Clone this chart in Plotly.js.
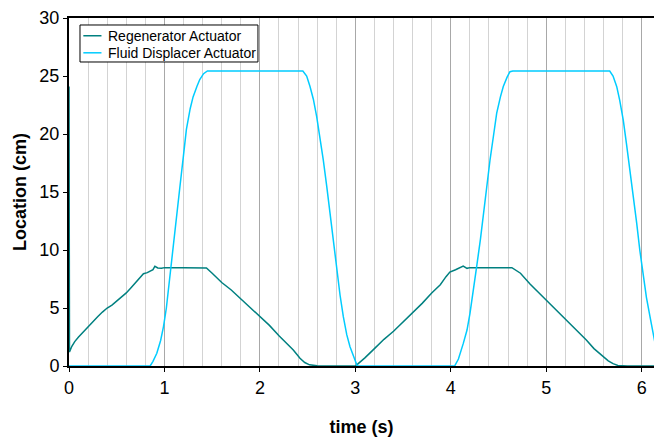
<!DOCTYPE html>
<html>
<head>
<meta charset="utf-8">
<script src="https://cdn.plot.ly/plotly-3.0.1.min.js"></script>
<style>html,body{margin:0;padding:0;background:#fff;}#chart{width:654px;height:437px;}</style>
</head>
<body>
<div id="chart"></div>
<script>
// Regenerator Actuator
const regenTime = [0, 0.005, 0.03, 0.06, 0.1, 0.15, 0.2, 0.25, 0.3, 0.35, 0.4, 0.45, 0.5, 0.55, 0.6, 0.65, 0.7, 0.75, 0.78, 0.82, 0.85, 0.88, 0.9, 0.93, 0.97, 1.0, 1.2, 1.44, 1.5, 1.6, 1.7, 1.8, 1.9, 2.0, 2.1, 2.2, 2.3, 2.35, 2.42, 2.47, 2.52, 2.6, 2.7, 3.0,
  3.03, 3.1, 3.2, 3.3, 3.4, 3.5, 3.6, 3.7, 3.8, 3.89, 3.95, 3.99, 4.05, 4.1, 4.13, 4.17, 4.2, 4.64, 4.73, 4.83, 4.9, 5.0, 5.1, 5.2, 5.3, 5.42, 5.5, 5.6, 5.65, 5.7, 5.75, 5.85, 6.2];
const regenLoc = [24.1, 1.2, 1.7, 2.1, 2.5, 2.95, 3.4, 3.85, 4.25, 4.65, 5.0, 5.25, 5.6, 5.95, 6.3, 6.75, 7.2, 7.65, 7.95, 8.05, 8.2, 8.3, 8.6, 8.45, 8.42, 8.48, 8.48, 8.45, 8.0, 7.2, 6.55, 5.8, 5.05, 4.25, 3.5, 2.6, 1.8, 1.38, 0.66, 0.3, 0.1, 0.02, 0, 0,
  0.2, 0.7, 1.5, 2.3, 3.0, 3.8, 4.6, 5.4, 6.3, 7.0, 7.7, 8.1, 8.3, 8.5, 8.62, 8.42, 8.48, 8.48, 8.0, 7.07, 6.5, 5.7, 4.9, 4.1, 3.3, 2.24, 1.5, 0.8, 0.45, 0.2, 0.05, 0, 0];

// Fluid Displacer Actuator
const fluidTime = [0, 0.85, 0.88, 0.92, 0.96, 0.99, 1.02, 1.06, 1.09, 1.13, 1.16, 1.2, 1.23, 1.27, 1.30, 1.34, 1.37, 1.41, 1.45, 2.45, 2.49, 2.525, 2.56, 2.595, 2.63, 2.664, 2.70, 2.734, 2.77, 2.805, 2.84, 2.874, 2.91, 2.944, 2.98, 3.0, 3.02,
  4.04, 4.08, 4.131, 4.17, 4.201, 4.24, 4.271, 4.31, 4.341, 4.38, 4.411, 4.45, 4.481, 4.52, 4.55, 4.59, 4.62, 4.65, 5.665, 5.70, 5.738, 5.77, 5.807, 5.84, 5.877, 5.91, 5.948, 5.98, 6.017, 6.05, 6.087, 6.129, 6.16, 6.2, 6.23];
const fluidLoc = [0, 0, 0.4, 1.1, 2.2, 3.4, 5.0, 7.8, 10.0, 13.0, 15.3, 18.2, 20.4, 22.2, 23.2, 24.1, 24.7, 25.2, 25.43, 25.43, 25.0, 24.1, 23.0, 21.5, 19.7, 17.76, 15.5, 13.16, 10.7, 8.28, 6.1, 4.25, 2.7, 1.66, 0.8, 0.3, 0,
  0, 0.6, 1.95, 3.1, 4.54, 6.6, 8.56, 10.9, 13.16, 15.6, 17.76, 20.0, 21.8, 23.2, 24.1, 24.9, 25.37, 25.43, 25.43, 25.0, 24.1, 22.9, 21.2, 19.2, 16.9, 14.7, 12.3, 10.0, 7.7, 5.9, 4.25, 2.24, 1.1, 0.3, 0];

const seriesNames = ['Regenerator Actuator', 'Fluid Displacer Actuator'];
const seriesColors = ['#008080', '#00CCFF'];
const xTickVals = [0, 1, 2, 3, 4, 5, 6];
const yTickVals = [0, 5, 10, 15, 20, 25, 30];

const traces = [
  {x: regenTime, y: regenLoc, name: seriesNames[0], type: 'scatter', mode: 'lines', line: {color: seriesColors[0], width: 1.5}, showlegend: false},
  {x: fluidTime, y: fluidLoc, name: seriesNames[1], type: 'scatter', mode: 'lines', line: {color: seriesColors[1], width: 1.5}, showlegend: false}
];

const font = 'Liberation Sans, Arial, sans-serif';

// legend drawn as a box with sample lines and text labels (paper coordinates)
const legBox = {x0: 0.0188, x1: 0.323, y0: 0.8736, y1: 0.9799};
const legRowsY = [0.949, 0.900];
const shapes = [
  {type: 'rect', xref: 'paper', yref: 'paper', x0: legBox.x0, x1: legBox.x1, y0: legBox.y0, y1: legBox.y1,
   line: {color: '#000', width: 1}, fillcolor: '#fff', layer: 'above'}
];
const annotations = [];
seriesNames.forEach((n, i) => {
  shapes.push({type: 'line', xref: 'paper', yref: 'paper', x0: 0.0245, x1: 0.0555, y0: legRowsY[i], y1: legRowsY[i],
               line: {color: seriesColors[i], width: 1.5}, layer: 'above'});
  annotations.push({xref: 'paper', yref: 'paper', x: 0.064, y: legRowsY[i], xanchor: 'left', yanchor: 'middle',
                    text: n, showarrow: false, font: {family: font, size: 14, color: '#000'}});
});

const layout = {
  width: 654, height: 437,
  margin: {l: 69, r: 0, t: 18, b: 71, pad: 0},
  paper_bgcolor: '#fff', plot_bgcolor: '#fff',
  font: {family: font, color: '#000'},
  showlegend: false,
  shapes: shapes,
  annotations: annotations,
  xaxis: {
    range: [0, 6.129], tickvals: xTickVals, ticktext: xTickVals.map(String),
    showline: true, linecolor: '#000', linewidth: 2, mirror: true,
    ticks: 'outside', ticklen: 4, tickcolor: '#000', tickwidth: 1,
    showgrid: true, gridcolor: '#a8a8a8', gridwidth: 1,
    minor: {dtick: 0.2, tick0: 0, showgrid: true, gridcolor: '#d3d3d3', gridwidth: 1, ticks: ''},
    zeroline: false,
    tickfont: {family: font, size: 18, color: '#000'},
    title: {text: '<b>time (s)</b>', font: {family: font, size: 18, color: '#000'}, standoff: 28}
  },
  yaxis: {
    range: [0, 30], tickvals: yTickVals, ticktext: yTickVals.map(String),
    showline: true, linecolor: '#000', linewidth: 2,
    ticks: 'outside', ticklen: 4, tickcolor: '#000', tickwidth: 1,
    showgrid: false, zeroline: false,
    tickfont: {family: font, size: 18, color: '#000'},
    title: {text: '<b>Location (cm)</b>', font: {family: font, size: 18, color: '#000'}, standoff: 8}
  }
};

Plotly.newPlot('chart', traces, layout, {displayModeBar: false, staticPlot: true});
</script>
</body>
</html>
